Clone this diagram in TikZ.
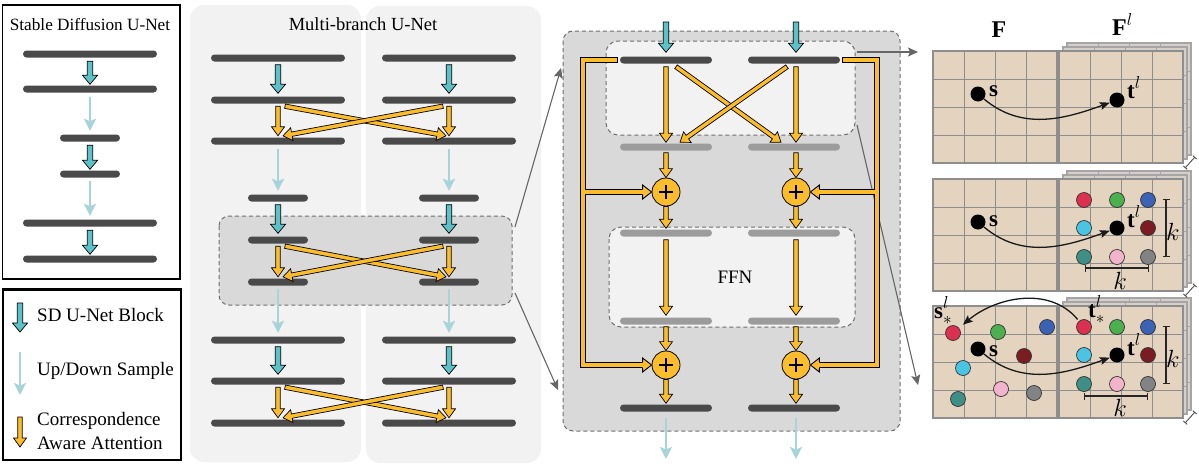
\documentclass[tikz,border=0pt]{standalone}
\usepackage{fontspec}
\setmainfont{Liberation Serif}
\usetikzlibrary{calc,arrows.meta}
\definecolor{bardark}{HTML}{4A4A4A}
\definecolor{bargray}{HTML}{9C9C9C}
\definecolor{teal1}{HTML}{5CC2C7}
\definecolor{lblue}{HTML}{A7D3D9}
\definecolor{yel}{HTML}{FBBD2B}
\definecolor{panel}{HTML}{F2F2F2}
\definecolor{boxgray}{HTML}{D9D9D9}
\definecolor{dashc}{HTML}{6E6E6E}
\definecolor{linkc}{HTML}{666666}
\definecolor{tanc}{HTML}{E4D4BF}
\definecolor{gridl}{HTML}{8E8E8E}
\definecolor{layerc}{HTML}{D6CFCC}
\definecolor{layerl}{HTML}{A5A5A5}
\definecolor{crim}{HTML}{DC3050}
\definecolor{grn}{HTML}{4CAF50}
\definecolor{blu}{HTML}{3B62B5}
\definecolor{cyn}{HTML}{4AC4E2}
\definecolor{dred}{HTML}{7B1C22}
\definecolor{tdot}{HTML}{3F8F87}
\definecolor{pnk}{HTML}{F2B3CC}
\definecolor{gry}{HTML}{828385}

\newcommand\fatarr[6]{%
  \coordinate (faS) at #1;
  \coordinate (faE) at #2;
  \coordinate (faB) at ($(faE)!#5pt!(faS)$);
  \filldraw[fill=#6, draw=black, line width=0.7pt, line join=miter]
    ($(faS)!#3pt!90:(faE)$) -- ($(faB)!#3pt!90:(faE)$) -- ($(faB)!#4pt!90:(faE)$) -- (faE)
    -- ($(faB)!#4pt!-90:(faE)$) -- ($(faB)!#3pt!-90:(faE)$) -- ($(faS)!#3pt!-90:(faE)$) -- cycle;
}
\newcommand\fathead[6]{%
  \coordinate (faS) at #1;
  \coordinate (faE) at #2;
  \coordinate (faB) at ($(faE)!#5pt!(faS)$);
  \fill[#6] ($(faB)!#3pt!90:(faE)$) -- ($(faB)!#4pt!90:(faE)$) -- (faE)
    -- ($(faB)!#4pt!-90:(faE)$) -- ($(faB)!#3pt!-90:(faE)$) -- cycle;
  \draw[black, line width=0.9pt, line join=miter] ($(faB)!#3pt!90:(faE)$) -- ($(faB)!#4pt!90:(faE)$) -- (faE)
    -- ($(faB)!#4pt!-90:(faE)$) -- ($(faB)!#3pt!-90:(faE)$);
}
\newcommand\fgrid[4]{%
  \fill[#3] (#1,#2) rectangle ++(124,112);
  \foreach \i in {1,2,3}{%
    \draw[#4, line width=0.9pt] ({#1+31*\i},#2) -- ++(0,112);
    \draw[#4, line width=0.9pt] (#1,{#2+28*\i}) -- ++(124,0);
  }
  \draw[#4, line width=1.1pt] (#1,#2) rectangle ++(124,112);
}

\tikzset{
  darkbar/.style={rectangle, rounded corners=3.5pt, fill=bardark, inner sep=0pt, minimum height=7pt},
  graybar/.style={darkbar, fill=bargray},
  updown/.style={draw=lblue, line width=2.8pt, -{Stealth[length=12pt,width=12pt,inset=2.5pt]}},
  link/.style={draw=linkc, line width=1.1pt, -{Stealth[length=10pt,width=9pt,inset=2pt]}},
  curv/.style={draw=black!90, line width=1.3pt, -{Stealth[length=10pt,width=8pt,inset=2pt]}},
  kbar/.style={draw=black!85, line width=1.4pt, {Bar[width=7pt]}-{Bar[width=7pt]}},
  depth/.style={draw=black!70, line width=0.9pt, {Bar[width=5pt]}-{Bar[width=5pt]}},
  plusc/.style={circle, fill=yel, draw=black, line width=0.8pt, minimum size=28pt, inner sep=0pt},
  bdot/.style={circle, fill=black, minimum size=15pt, inner sep=0pt},
  cdot/.style={circle, fill=#1, draw=black!80, line width=0.7pt, minimum size=15pt, inner sep=0pt},
  residB/.style={draw=black, line width=6.6pt, line join=miter},
  residY/.style={draw=yel, line width=4.8pt, line join=miter},
  lab/.style={font=\fontsize{18.5}{22}\selectfont, inner sep=0pt},
  leg/.style={font=\fontsize{19}{22}\selectfont, inner sep=0pt, anchor=west},
  mlab/.style={font=\fontsize{23}{26}\selectfont, inner sep=0pt},
  panelbg/.style={fill=panel, rounded corners=14pt},
  dbox/.style={fill=boxgray, draw=dashc, dash pattern=on 4pt off 3pt, line width=1pt, rounded corners=10pt},
  ibox/.style={fill=panel, draw=dashc, dash pattern=on 4pt off 3pt, line width=1pt, rounded corners=12pt},
}

\begin{document}
\begin{tikzpicture}[x=1pt,y=-1pt]
\useasboundingbox (0,0) rectangle (1199,466);

% ---------------- Panel 1: Stable Diffusion U-Net
\draw[line width=1.3pt] (2.5,5) rectangle (180,279);
\node[lab, font=\fontsize{17.2}{20}\selectfont] (sdtitle) at (90,25) {Stable Diffusion U-Net};
\node[darkbar, minimum width=134pt] (s1) at (90,54) {};
\node[darkbar, minimum width=134pt] (s2) at (90,89) {};
\node[darkbar, minimum width=60pt] (s3) at (90,138) {};
\node[darkbar, minimum width=60pt] (s4) at (90,174) {};
\node[darkbar, minimum width=134pt] (s5) at (90,223) {};
\node[darkbar, minimum width=134pt] (s6) at (90,259) {};
\fatarr{($(s1.south)+(0,3.5)$)}{($(s2.north)+(0,-1)$)}{2.7}{7.5}{9}{teal1}
\draw[updown] ($(s2.south)+(0,4.5)$) -- ($(s3.north)+(0,-3.5)$);
\fatarr{($(s3.south)+(0,3.5)$)}{($(s4.north)+(0,-1)$)}{2.7}{7.5}{9}{teal1}
\draw[updown] ($(s4.south)+(0,3.5)$) -- ($(s5.north)+(0,-3.5)$);
\fatarr{($(s5.south)+(0,3.5)$)}{($(s6.north)+(0,-1)$)}{2.7}{7.5}{9}{teal1}

% ---------------- Legend
\draw[line width=2.6pt] (3,289.5) rectangle (181,460);
\coordinate (lg1a) at (20,303); \coordinate (lg1b) at (20,332);
\fatarr{(lg1a)}{(lg1b)}{2.7}{7.5}{9}{teal1}
\node[leg] (lgt1) at (37,315) {SD U-Net Block};
\coordinate (lg2a) at (20,352); \coordinate (lg2b) at (20,395);
\draw[updown] (lg2a) -- (lg2b);
\node[leg] (lgt2) at (37,371) {Up/Down Sample};
\coordinate (lg3a) at (20,417); \coordinate (lg3b) at (20,447);
\fatarr{(lg3a)}{(lg3b)}{2.2}{6.5}{9}{yel}
\node[leg] (lgt3) at (37,421) {Correspondence};
\node[leg] (lgt4) at (37,443) {Aware Attention};

% ---------------- Panel 2: Multi-branch U-Net
\fill[panelbg] (190,5) rectangle (361,462);
\fill[panelbg] (366,6) rectangle (541,463);
\node[lab] (mbtitle) at (363,24) {Multi-branch U-Net};
\draw[dbox] (219,216) rectangle (512,305);
\foreach \c/\xx in {A/278,B/449}{
  \node[darkbar, minimum width=134pt] (\c1) at (\xx,58) {};
  \node[darkbar, minimum width=134pt] (\c2) at (\xx,100) {};
  \node[darkbar, minimum width=134pt] (\c3) at (\xx,141) {};
  \node[darkbar, minimum width=60pt] (\c4) at (\xx,198) {};
  \node[darkbar, minimum width=60pt] (\c5) at (\xx,240) {};
  \node[darkbar, minimum width=60pt] (\c6) at (\xx,282) {};
  \node[darkbar, minimum width=134pt] (\c7) at (\xx,340) {};
  \node[darkbar, minimum width=134pt] (\c8) at (\xx,381) {};
  \node[darkbar, minimum width=134pt] (\c9) at (\xx,423) {};
}
\foreach \c in {A,B}{
  \fatarr{($(\c1.south)+(0,3)$)}{($(\c2.north)+(0,-3)$)}{2.7}{7.5}{9}{teal1}
  \draw[updown] ($(\c3.south)+(0,4)$) -- ($(\c4.north)+(0,-3.5)$);
  \fatarr{($(\c4.south)+(0,3)$)}{($(\c5.north)+(0,-3)$)}{2.7}{7.5}{9}{teal1}
  \draw[updown] ($(\c6.south)+(0,3)$) -- ($(\c7.north)+(0,-3.5)$);
  \fatarr{($(\c7.south)+(0,3)$)}{($(\c8.north)+(0,-3)$)}{2.7}{7.5}{9}{teal1}
}
\foreach \u/\d in {2/3,5/6,8/9}{
  \fatarr{($(A\u.south)+(7,2.5)$)}{($(B\d.north)+(-3,-1.5)$)}{2.2}{6.5}{9}{yel}
  \fatarr{($(B\u.south)+(-6,2.5)$)}{($(A\d.north)+(5,-1.5)$)}{2.2}{6.5}{9}{yel}
  \fatarr{($(A\u.south)+(0,2.5)$)}{($(A\d.north)+(0,-1.5)$)}{2.2}{6.5}{9}{yel}
  \fatarr{($(B\u.south)+(0,2.5)$)}{($(B\d.north)+(0,-1.5)$)}{2.2}{6.5}{9}{yel}
}

% ---------------- Panel 3: block detail
\draw[dbox] (563,31) rectangle (900,431);
\draw[ibox] (606,41) rectangle (855,135);
\draw[ibox] (609,227) rectangle (855,327);
\node[lab, font=\fontsize{19}{22}\selectfont] (ffn) at (735,277) {FFN};

% links
\coordinate (la1) at (515,227); \coordinate (la2) at (561,68);
\coordinate (lb1) at (515,293); \coordinate (lb2) at (558,390);
\coordinate (lc1) at (857,52); \coordinate (lc2) at (918,52);
\coordinate (ld1) at (857,125); \coordinate (ld2) at (918,385);
\draw[link] (la1) -- (la2);
\draw[link] (lb1) -- (lb2);
\draw[link] (lc1) -- (lc2);
\draw[link] (ld1) -- (ld2);

\node[darkbar, minimum width=92pt] (C1) at (666,60) {};
\node[darkbar, minimum width=92pt] (D1) at (794,60) {};
\node[graybar, minimum width=92pt] (C2) at (666,147) {};
\node[graybar, minimum width=92pt] (D2) at (794,147) {};
\node[graybar, minimum width=92pt] (C3) at (666,233) {};
\node[graybar, minimum width=92pt] (D3) at (794,233) {};
\node[graybar, minimum width=92pt] (C4) at (666,321) {};
\node[graybar, minimum width=92pt] (D4) at (794,321) {};
\node[darkbar, minimum width=92pt] (C5) at (666,408) {};
\node[darkbar, minimum width=92pt] (D5) at (794,408) {};

% residual paths
\coordinate (rl2) at (583,365); \coordinate (rl3) at (583,192);
\coordinate (rr2) at (877,365); \coordinate (rr3) at (877,192);
\node[plusc] (P1) at (666,192) {};
\node[plusc] (Q1) at (796,192) {};
\node[plusc] (P2) at (666,365) {};
\node[plusc] (Q2) at (796,365) {};
\draw[residB, shorten <=-0.9pt] ($(C1.west)+(-3,0)$) -| (rl2) -- ($(P2.west)+(-9,0)$);
\draw[residB] (rl3) -- ($(P1.west)+(-9,0)$);
\draw[residB, shorten <=-0.9pt] ($(D1.east)+(3,0)$) -| (rr2) -- ($(Q2.east)+(9,0)$);
\draw[residB] (rr3) -- ($(Q1.east)+(9,0)$);
\draw[residY] ($(C1.west)+(-3,0)$) -| (rl2) -- ($(P2.west)+(-9,0)$);
\draw[residY] (rl3) -- ($(P1.west)+(-9,0)$);
\draw[residY] ($(D1.east)+(3,0)$) -| (rr2) -- ($(Q2.east)+(9,0)$);
\draw[residY] (rr3) -- ($(Q1.east)+(9,0)$);
\fathead{(rl2)}{(P2.west)}{2.85}{7}{9}{yel}
\fathead{(rl3)}{(P1.west)}{2.85}{7}{9}{yel}
\fathead{(rr2)}{(Q2.east)}{2.85}{7}{9}{yel}
\fathead{(rr3)}{(Q1.east)}{2.85}{7}{9}{yel}

% inputs
\coordinate (in1) at (666,22); \coordinate (in2) at (796,22);
\fatarr{(in1)}{($(C1.north)+(0,-4)$)}{2.7}{7.5}{9}{teal1}
\fatarr{(in2)}{($(D1.north)+(2,-4)$)}{2.7}{7.5}{9}{teal1}
% attention
\fatarr{($(C1.south)+(0,3)$)}{($(C2.north)+(0,-1)$)}{2.2}{6.5}{9}{yel}
\fatarr{($(D1.south)+(2,3)$)}{($(D2.north)+(2,-1)$)}{2.2}{6.5}{9}{yel}
\fatarr{($(C1.south)+(10,3)$)}{($(D2.north)+(-13,-1)$)}{2.2}{6.5}{9}{yel}
\fatarr{($(D1.south)+(-7,3)$)}{($(C2.north)+(14,-1)$)}{2.2}{6.5}{9}{yel}
% chain
\fatarr{($(C2.south)+(0,2)$)}{(P1.north)}{2.2}{6.5}{9}{yel}
\fatarr{($(D2.south)+(2,2)$)}{(Q1.north)}{2.2}{6.5}{9}{yel}
\fatarr{(P1.south)}{($(C3.north)+(0,-1)$)}{2.2}{6.5}{9}{yel}
\fatarr{(Q1.south)}{($(D3.north)+(2,-1)$)}{2.2}{6.5}{9}{yel}
\fatarr{($(C3.south)+(0,3)$)}{($(C4.north)+(0,-2)$)}{2.2}{6.5}{9}{yel}
\fatarr{($(D3.south)+(2,3)$)}{($(D4.north)+(2,-2)$)}{2.2}{6.5}{9}{yel}
\fatarr{($(C4.south)+(0,2)$)}{(P2.north)}{2.2}{6.5}{9}{yel}
\fatarr{($(D4.south)+(2,2)$)}{(Q2.north)}{2.2}{6.5}{9}{yel}
\fatarr{(P2.south)}{($(C5.north)+(0,-1)$)}{2.2}{6.5}{9}{yel}
\fatarr{(Q2.south)}{($(D5.north)+(2,-1)$)}{2.2}{6.5}{9}{yel}
\foreach \n in {P1,Q1,P2,Q2}{
  \draw[line width=1.1pt] ([xshift=-7pt]\n.center) -- ([xshift=7pt]\n.center);
  \draw[line width=1.1pt] ([yshift=-7pt]\n.center) -- ([yshift=7pt]\n.center);
}
% outputs
\coordinate (out1) at (666,459); \coordinate (out2) at (796,459);
\draw[updown] ($(C5.south)+(0,6)$) -- (out1);
\draw[updown] ($(D5.south)+(2,6)$) -- (out2);

% ---------------- Panel 4: correspondence grids
\node[mlab, font=\fontsize{24}{26}\selectfont, anchor=base] (lF) at (999,37) {$\mathbf{F}$};
\node[mlab, font=\fontsize{24}{26}\selectfont, anchor=base west] (lFl) at (1112,35) {$\mathbf{F}^{l}$};
\foreach \top in {51,179,306}{
  \fgrid{933}{\top}{tanc}{gridl}
  \fgrid{1067}{\top-8}{layerc}{layerl}
  \fgrid{1063}{\top-4}{layerc}{layerl}
  \fgrid{1059}{\top}{tanc}{gridl}
}
\coordinate (dp1a) at (1185,168); \coordinate (dp1b) at (1195,157);
\coordinate (dp2a) at (1185,296); \coordinate (dp2b) at (1195,285);
\coordinate (dp3a) at (1185,423); \coordinate (dp3b) at (1195,412);
\draw[depth] (dp1a) -- (dp1b);
\draw[depth] (dp2a) -- (dp2b);
\draw[depth] (dp3a) -- (dp3b);

% row 1
\node[bdot] (s1d) at (978,94) {};
\node[bdot] (t1d) at (1117,100) {};
\node[mlab, anchor=base west] (s1l) at (989,96) {$\mathbf{s}$};
\node[mlab, anchor=base west] (t1l) at (1127,98) {$\mathbf{t}^{l}$};
\draw[curv] (s1d) to[out=-40,in=200] (t1d);

% row 2
\node[bdot] (s2d) at (978,222) {};
\node[mlab, anchor=base west] (s2l) at (989,226) {$\mathbf{s}$};
\node[cdot=crim] (r2a) at (1084,200) {};
\node[cdot=grn] (r2b) at (1117,200) {};
\node[cdot=blu] (r2c) at (1148,200) {};
\node[cdot=cyn] (r2d) at (1084,228) {};
\node[bdot] (t2d) at (1117,228) {};
\node[cdot=dred] (r2f) at (1148,228) {};
\node[cdot=tdot] (r2g) at (1084,257) {};
\node[cdot=pnk] (r2h) at (1117,257) {};
\node[cdot=gry] (r2i) at (1148,257) {};
\node[mlab, anchor=base west] (t2l) at (1127,227) {$\mathbf{t}^{l}$};
\draw[curv] (s2d) to[out=-40,in=200] (t2d);
\coordinate (k2a) at (1166,199); \coordinate (k2b) at (1166,257);
\coordinate (k2c) at (1085,268); \coordinate (k2d) at (1149,268);
\draw[kbar] (k2a) -- (k2b);
\draw[kbar] (k2c) -- (k2d);
\node[mlab, anchor=base west] (k2v) at (1166,240) {$k$};
\node[mlab, anchor=base] (k2h) at (1120,289) {$k$};

% row 3
\node[cdot=crim] (l3a) at (953,333) {};
\node[cdot=grn] (l3b) at (998,332) {};
\node[cdot=blu] (l3c) at (1047,327) {};
\node[bdot] (s3d) at (978,349) {};
\node[cdot=dred] (l3e) at (1024,356) {};
\node[cdot=cyn] (l3f) at (963,368) {};
\node[cdot=pnk] (l3g) at (1001,389) {};
\node[cdot=gry] (l3h) at (1034,393) {};
\node[cdot=tdot] (l3i) at (958,399) {};
\node[mlab, anchor=base west] (s3l) at (989,356) {$\mathbf{s}$};
\node[mlab, anchor=base west] (s3sl) at (934,318) {$\mathbf{s}^{l}_{*}$};
\node[cdot=crim] (r3a) at (1084,327) {};
\node[cdot=grn] (r3b) at (1117,327) {};
\node[cdot=blu] (r3c) at (1148,327) {};
\node[cdot=cyn] (r3d) at (1084,355) {};
\node[bdot] (t3d) at (1117,355) {};
\node[cdot=dred] (r3f) at (1148,355) {};
\node[cdot=tdot] (r3g) at (1084,384) {};
\node[cdot=pnk] (r3h) at (1117,384) {};
\node[cdot=gry] (r3i) at (1148,384) {};
\node[mlab, anchor=base west] (t3l) at (1127,355) {$\mathbf{t}^{l}$};
\node[mlab, anchor=base west] (t3sl) at (1088,317) {$\mathbf{t}^{l}_{*}$};
\draw[curv] (s3d) to[out=-40,in=200] (t3d);
\draw[curv, shorten <=2pt, shorten >=5pt] (r3a) to[out=130,in=40] (l3a);
\coordinate (k3a) at (1166,326); \coordinate (k3b) at (1166,384);
\coordinate (k3c) at (1084,396); \coordinate (k3d) at (1148,396);
\draw[kbar] (k3a) -- (k3b);
\draw[kbar] (k3c) -- (k3d);
\node[mlab, anchor=base west] (k3v) at (1166,367) {$k$};
\node[mlab, anchor=base] (k3h) at (1120,416) {$k$};
\end{tikzpicture}
\end{document}
